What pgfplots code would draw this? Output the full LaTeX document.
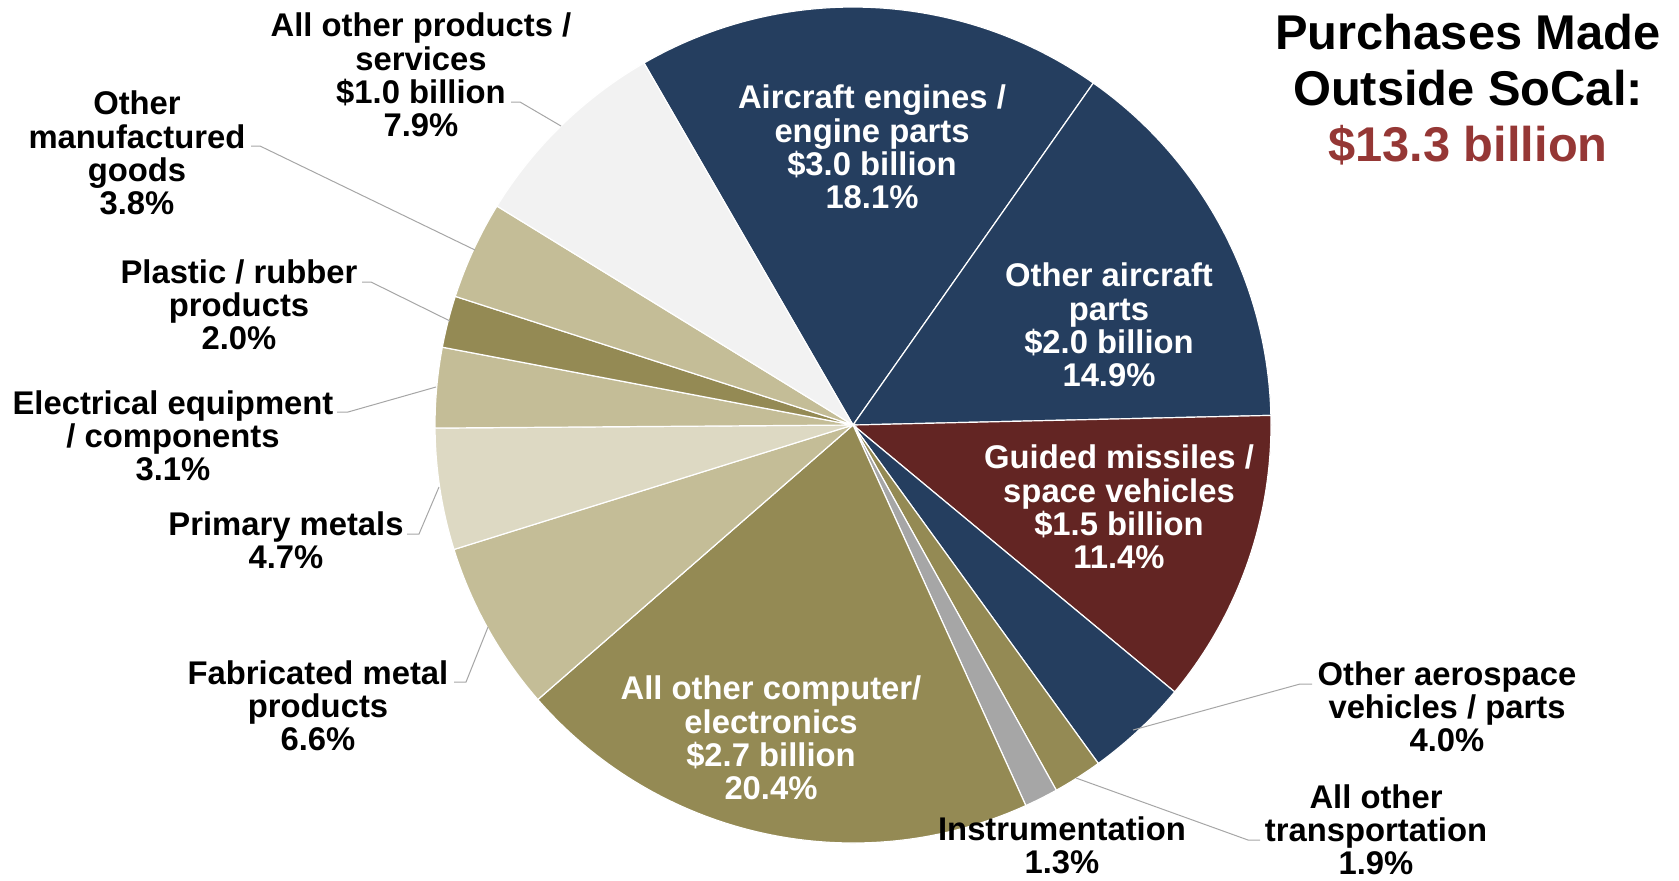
\documentclass[border=0pt]{standalone}
\usepackage{fontspec}
\setmainfont{Liberation Sans}
\usepackage{pgfplots}
\usepackage{pgfplotstable}
\pgfplotsset{compat=1.18}

\definecolor{navyc}{HTML}{253E5F}
\definecolor{maroonc}{HTML}{632523}
\definecolor{olivec}{HTML}{948A54}
\definecolor{grayc}{HTML}{A6A6A6}
\definecolor{tanc}{HTML}{C4BD97}
\definecolor{lighttanc}{HTML}{DDD9C3}
\definecolor{lightgrayc}{HTML}{F2F2F2}
\definecolor{titlered}{HTML}{953735}
\definecolor{leadc}{HTML}{A6A6A6}

% share of purchases (%), clockwise from 120 deg
\pgfplotstableread{
pct  col
18.1 navyc
14.9 navyc
11.4 maroonc
4.0  navyc
1.9  olivec
1.3  grayc
20.4 olivec
6.6  tanc
4.7  lighttanc
3.1  tanc
2.0  olivec
3.8  tanc
7.9  lightgrayc
}\slices

\newcommand\lbl{\fontsize{16.4}{16.6}\selectfont\bfseries}

\begin{document}
\begin{tikzpicture}
\begin{axis}[
    x=0.5pt, y=0.5pt, y dir=reverse,
    xmin=0, xmax=1679, ymin=0, ymax=880,
    hide axis, clip=false,
]
\coordinate (bl) at (axis cs:0,880);
\coordinate (tr) at (axis cs:1679,0);

% pie wedges from the table
\pgfmathsetmacro{\angA}{120}
\pgfplotsforeachungrouped \i in {0,...,12}{
    \pgfplotstablegetelem{\i}{pct}\of\slices \let\p\pgfplotsretval
    \pgfplotstablegetelem{\i}{col}\of\slices \let\c\pgfplotsretval
    \pgfmathsetmacro{\angB}{\angA-\p*360/100.1}
    \edef\slicecmd{\noexpand\filldraw[fill=\c, draw=white, line width=0.6pt]
        (axis cs:853,425) -- ++(\angA:209pt)
        arc[start angle=\angA, end angle=\angB, radius=209pt] -- cycle;}
    \slicecmd
    \global\let\angA\angB
}

% leader lines
\begin{scope}[leadc, line width=0.5pt]
\draw (axis cs:511,102) -- (axis cs:520,102) -- (axis cs:561,126);
\draw (axis cs:251,146) -- (axis cs:260,146) -- (axis cs:475,250);
\draw (axis cs:362,282) -- (axis cs:371,282) -- (axis cs:450,321);
\draw (axis cs:337,412) -- (axis cs:348,412) -- (axis cs:436,387);
\draw (axis cs:407,534) -- (axis cs:419,534) -- (axis cs:439,487);
\draw (axis cs:454,682) -- (axis cs:466,682) -- (axis cs:488,627);
\draw (axis cs:1312,684) -- (axis cs:1300,684) -- (axis cs:1133,730);
\draw (axis cs:1260,840) -- (axis cs:1248,840) -- (axis cs:1076,778);
\end{scope}

% labels inside
\begin{scope}[every node/.style={align=center, font=\lbl, text=white, inner sep=0pt}]
\node at (axis cs:872,147) {Aircraft engines /\\engine parts\\\$3.0 billion\\18.1\%};
\node at (axis cs:1109,325) {Other aircraft\\parts\\\$2.0 billion\\14.9\%};
\node at (axis cs:1119,507) {Guided missiles /\\space vehicles\\\$1.5 billion\\11.4\%};
\node at (axis cs:771,738) {All other computer/\\electronics\\\$2.7 billion\\20.4\%};
\end{scope}

% labels outside
\begin{scope}[every node/.style={align=center, font=\lbl, text=black, inner sep=0pt}]
\node at (axis cs:421,75) {All other products /\\services\\\$1.0 billion\\7.9\%};
\node at (axis cs:137,153) {Other\\manufactured\\goods\\3.8\%};
\node at (axis cs:239,305) {Plastic / rubber\\products\\2.0\%};
\node at (axis cs:173,436) {Electrical equipment\\/ components\\3.1\%};
\node at (axis cs:286,540) {Primary metals\\4.7\%};
\node at (axis cs:318,706) {Fabricated metal\\products\\6.6\%};
\node at (axis cs:1447,707) {Other aerospace\\vehicles / parts\\4.0\%};
\node at (axis cs:1376,830) {All other\\transportation\\1.9\%};
\node at (axis cs:1062,845) {Instrumentation\\1.3\%};
\end{scope}

% title
\node[align=center, inner sep=0pt, font=\fontsize{24.4}{28}\selectfont\bfseries]
    at (axis cs:1468,90) {Purchases Made\\Outside SoCal:\\\textcolor{titlered}{\$13.3 billion}};
\end{axis}
\pgfresetboundingbox
\path (bl) rectangle (tr);
\end{tikzpicture}
\end{document}
